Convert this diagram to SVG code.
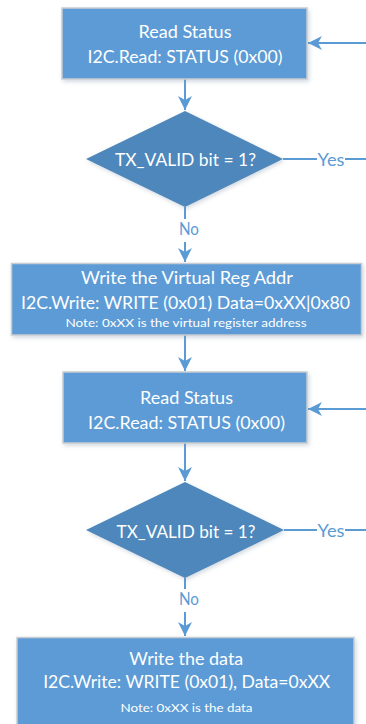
<svg xmlns="http://www.w3.org/2000/svg" width="366" height="724" viewBox="0 0 366 724">
<style>
.box{fill:#5B9BD5;stroke:#C9CDD1;stroke-width:1.5;filter:url(#sh)}
.dia{fill:#4D87BB;filter:url(#sh)}
.t{font-family:Lato,"Liberation Sans",sans-serif;font-size:17px;fill:#FFFFFF;text-anchor:middle}
.s{font-family:Lato,"Liberation Sans",sans-serif;font-size:11.5px;fill:#FFFFFF;text-anchor:middle}
.lbl{font-family:Lato,"Liberation Sans",sans-serif;font-size:17px;fill:#5B9BD5;text-anchor:middle}
.c{fill:none;stroke:#5B9BD5;stroke-width:2}
</style>
<defs>
<filter id="sh" x="-10%" y="-10%" width="130%" height="140%">
<feDropShadow dx="1.5" dy="2" stdDeviation="2" flood-color="#7F93A8" flood-opacity="0.35"/>
</filter>
<marker id="ah" markerUnits="userSpaceOnUse" markerWidth="16" markerHeight="16" viewBox="0 0 16 16" refX="15" refY="8" orient="auto">
<path d="M1,1 L15,8 L1,15 L5,8 Z" fill="#5B9BD5"/>
</marker>
</defs>

<g id="connectors">
<path class="c" d="M185,79 L185,110" marker-end="url(#ah)"/>
<path class="c" d="M366,43 L308,43" marker-end="url(#ah)"/>
<path class="c" d="M283,159 L317,159"/>
<path class="c" d="M345,159 L366,159"/>
<path class="c" d="M185,207 L185,219"/>
<path class="c" d="M185,242 L185,262" marker-end="url(#ah)"/>
<path class="c" d="M185,335 L185,371" marker-end="url(#ah)"/>
<path class="c" d="M366,409 L308,409" marker-end="url(#ah)"/>
<path class="c" d="M185,443 L185,481" marker-end="url(#ah)"/>
<path class="c" d="M284,530 L317,530"/>
<path class="c" d="M345,530 L366,530"/>
<path class="c" d="M185,578 L185,589"/>
<path class="c" d="M185,612 L185,636" marker-end="url(#ah)"/>
<text class="lbl" x="331" y="166" textLength="27" lengthAdjust="spacingAndGlyphs">Yes</text>
<text class="lbl" x="189" y="235" textLength="20" lengthAdjust="spacingAndGlyphs">No</text>
<text class="lbl" x="331" y="537" textLength="27" lengthAdjust="spacingAndGlyphs">Yes</text>
<text class="lbl" x="189" y="605" textLength="20" lengthAdjust="spacingAndGlyphs">No</text>
</g>

<g id="read-status-1">
<rect class="box" x="62" y="8" width="245" height="71"/>
<text class="t" x="185" y="38" textLength="93" lengthAdjust="spacingAndGlyphs">Read Status</text>
<text class="t" x="185" y="63" textLength="195" lengthAdjust="spacingAndGlyphs">I2C.Read: STATUS (0x00)</text>
</g>

<g id="tx-valid-1">
<polygon class="dia" points="185,111 283,159 185,207 86,159"/>
<text class="t" x="185.5" y="166" textLength="141" lengthAdjust="spacingAndGlyphs">TX_VALID bit = 1?</text>
</g>

<g id="write-virtual-reg">
<rect class="box" x="11.5" y="263.5" width="350" height="71.5"/>
<text class="t" x="187" y="284" textLength="212" lengthAdjust="spacingAndGlyphs">Write the Virtual Reg Addr</text>
<text class="t" x="185.5" y="309" textLength="329" lengthAdjust="spacingAndGlyphs">I2C.Write: WRITE (0x01) Data=0xXX|0x80</text>
<text class="s" x="186" y="327" textLength="241" lengthAdjust="spacingAndGlyphs">Note: 0xXX is the virtual register address</text>
</g>

<g id="read-status-2">
<rect class="box" x="63" y="372" width="244" height="71"/>
<text class="t" x="186.5" y="404" textLength="93" lengthAdjust="spacingAndGlyphs">Read Status</text>
<text class="t" x="186.5" y="429" textLength="197" lengthAdjust="spacingAndGlyphs">I2C.Read: STATUS (0x00)</text>
</g>

<g id="tx-valid-2">
<polygon class="dia" points="185,482 284,530 185,578 86,530"/>
<text class="t" x="186" y="538" textLength="139" lengthAdjust="spacingAndGlyphs">TX_VALID bit = 1?</text>
</g>

<g id="write-data">
<rect class="box" x="17" y="637.5" width="337" height="92"/>
<text class="t" x="186.3" y="665" textLength="114" lengthAdjust="spacingAndGlyphs">Write the data</text>
<text class="t" x="186.7" y="688" textLength="287" lengthAdjust="spacingAndGlyphs">I2C.Write: WRITE (0x01), Data=0xXX</text>
<text class="s" x="186.5" y="712" textLength="132" lengthAdjust="spacingAndGlyphs">Note: 0xXX is the data</text>
</g>
</svg>
